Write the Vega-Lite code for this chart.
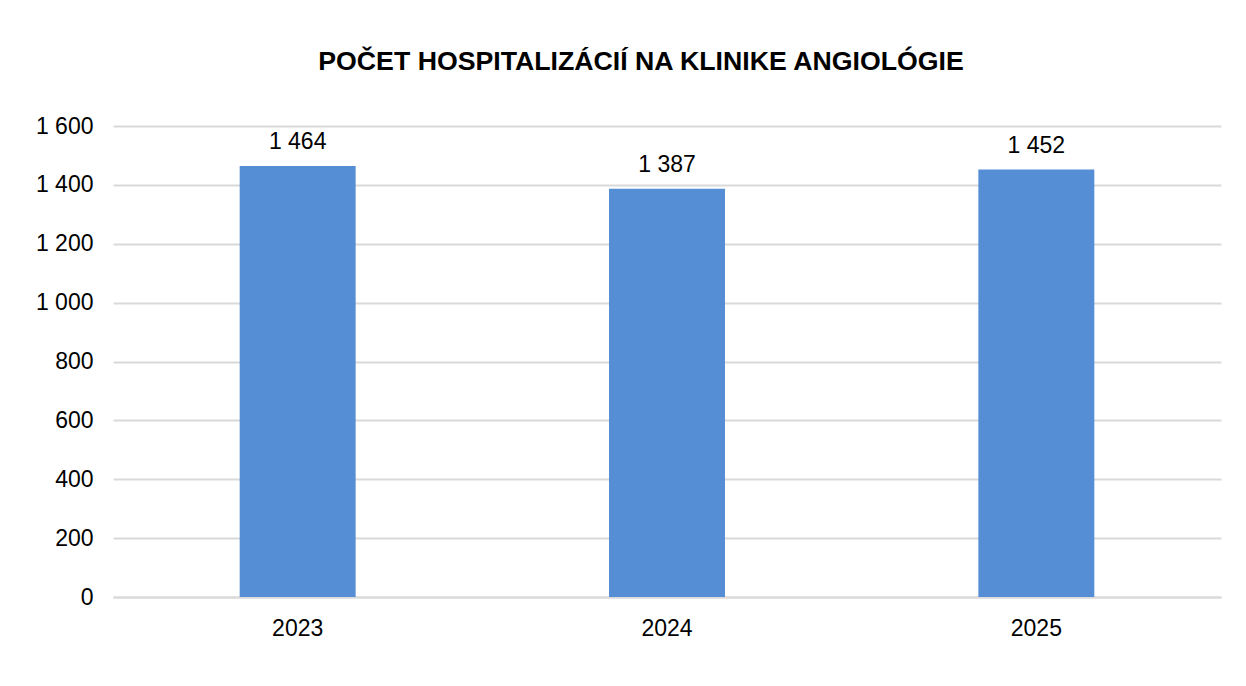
{
  "$schema": "https://vega.github.io/schema/vega-lite/v6.json",
  "autosize": {"type": "none"},
  "width": 1108,
  "height": 471,
  "padding": {"left": 113, "top": 126, "right": 25, "bottom": 89},
  "background": "#ffffff",
  "config": {
    "locale": {"number": {"decimal": ",", "thousands": " ", "grouping": [3], "currency": ["", " €"]}},
    "view": {"stroke": null},
    "font": "Liberation Sans"
  },
  "title": {
    "text": "POČET HOSPITALIZÁCIÍ NA KLINIKE ANGIOLÓGIE",
    "font": "Liberation Sans",
    "fontSize": 26.7,
    "fontWeight": "bold",
    "color": "#000000",
    "anchor": "middle",
    "dx": -26,
    "offset": 39
  },
  "data": {
    "values": [
      {"year": "2023", "count": 1464},
      {"year": "2024", "count": 1387},
      {"year": "2025", "count": 1452}
    ]
  },
  "encoding": {
    "x": {
      "field": "year",
      "type": "nominal",
      "scale": {"paddingInner": 0.686, "paddingOuter": 0.343},
      "axis": {
        "title": null,
        "labelAngle": 0,
        "labelFontSize": 23,
        "labelColor": "#000000",
        "labelFont": "Liberation Sans",
        "labelPadding": 20,
        "ticks": false,
        "domain": true,
        "domainColor": "#d9d9d9",
        "domainWidth": 2
      }
    },
    "y": {
      "field": "count",
      "type": "quantitative",
      "scale": {"domain": [0, 1600]},
      "axis": {
        "title": null,
        "values": [0, 200, 400, 600, 800, 1000, 1200, 1400, 1600],
        "format": ",d",
        "labelFontSize": 23,
        "labelColor": "#000000",
        "labelFont": "Liberation Sans",
        "labelPadding": 20,
        "ticks": false,
        "domain": false,
        "grid": true,
        "gridColor": "#d9d9d9",
        "gridWidth": 2
      }
    }
  },
  "layer": [
    {"mark": {"type": "bar", "color": "#558ed5"}},
    {
      "mark": {"type": "text", "baseline": "alphabetic", "dy": -17, "fontSize": 23, "color": "#000000", "font": "Liberation Sans"},
      "encoding": {"text": {"field": "count", "type": "quantitative", "format": ",d"}}
    }
  ]
}
